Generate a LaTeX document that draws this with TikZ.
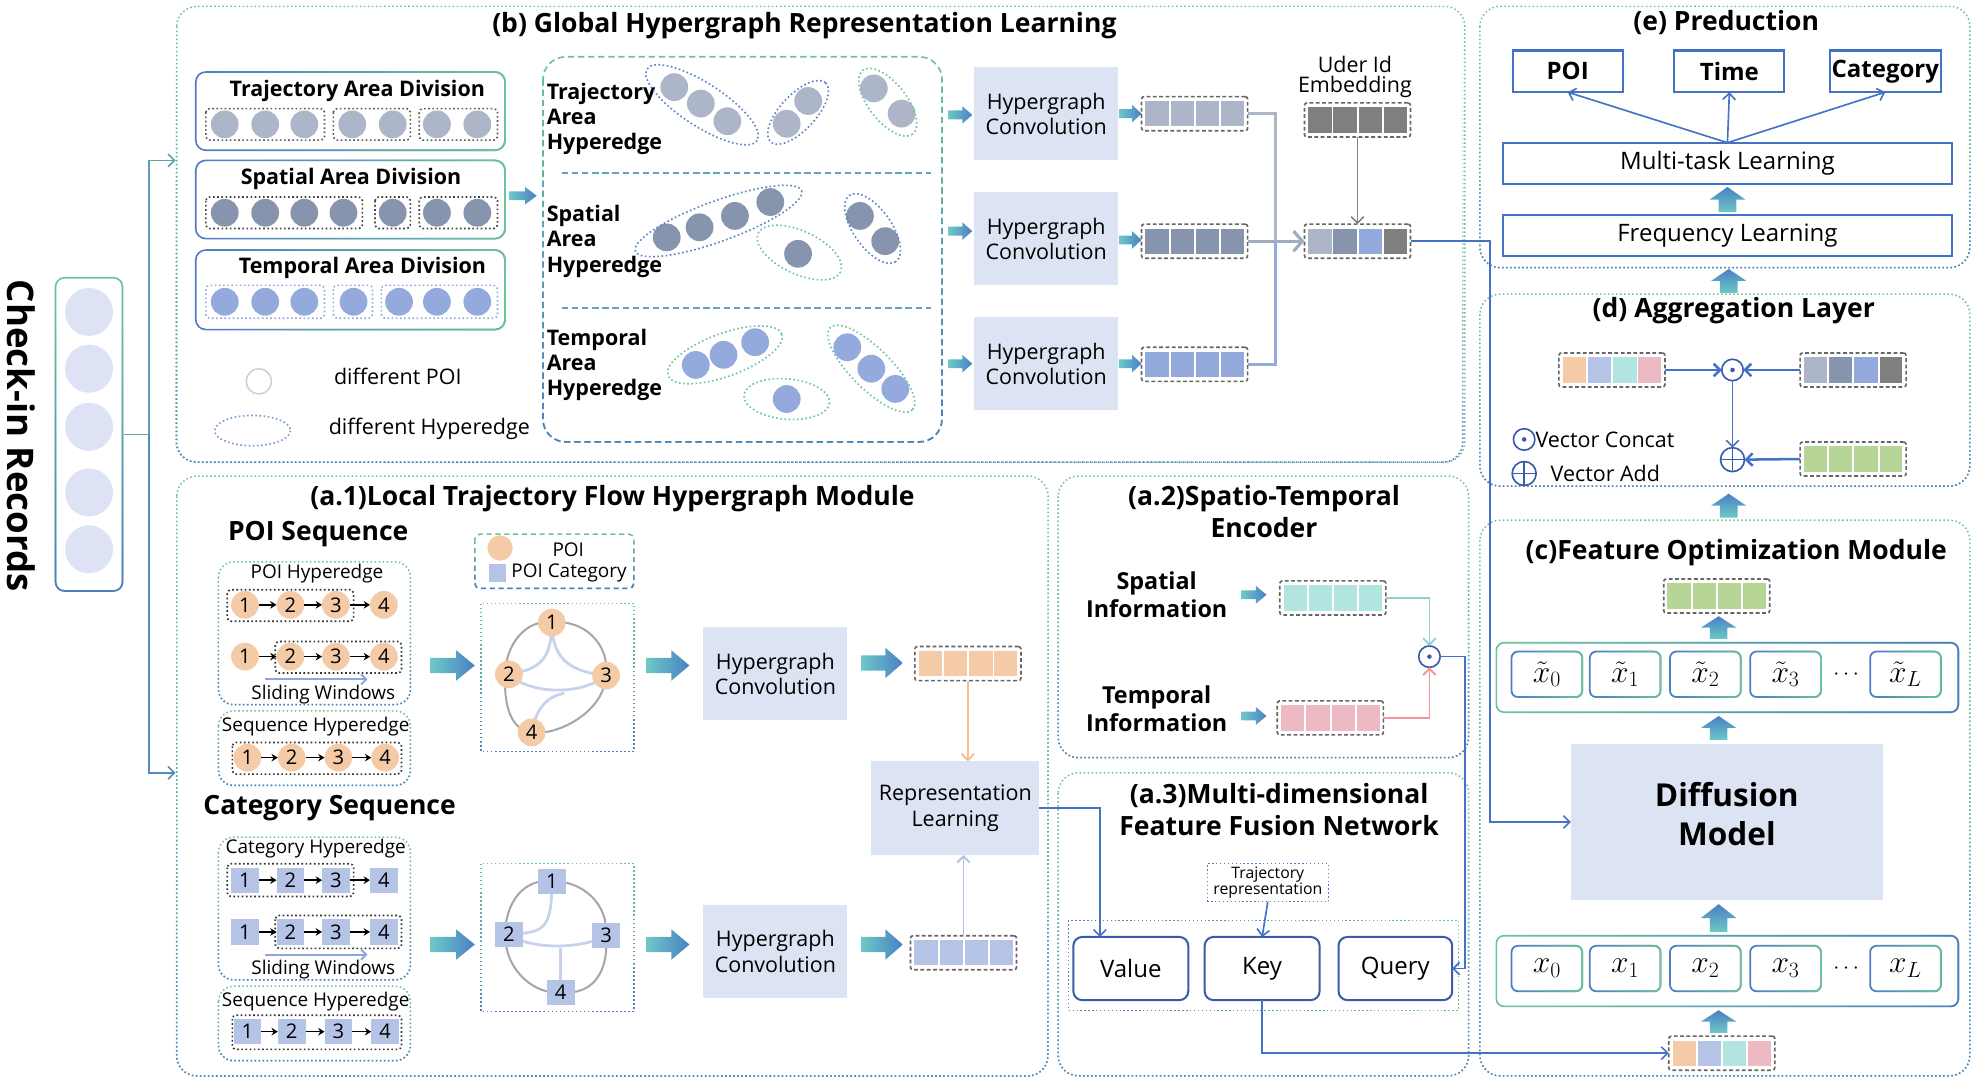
\documentclass[tikz,border=0pt]{standalone}
\usepackage{fontspec}
\setmainfont{Open Sans}
\usetikzlibrary{arrows.meta,calc,fadings,backgrounds}
\definecolor{lav}{HTML}{DCE3F3}
\definecolor{poiC}{HTML}{F5CBA7}
\definecolor{catC}{HTML}{B4C3E6}
\definecolor{mintC}{HTML}{B3E5E0}
\definecolor{pinkC}{HTML}{EDBAC3}
\definecolor{grnC}{HTML}{B7D597}
\definecolor{trajC}{HTML}{ADB5C8}
\definecolor{spatC}{HTML}{8794AD}
\definecolor{tempC}{HTML}{95AADC}
\definecolor{darkC}{HTML}{7F7F7F}
\definecolor{lineB}{HTML}{4472C4}
\definecolor{gA}{HTML}{6CC49B}
\definecolor{bB}{HTML}{4F7CC4}
\definecolor{hgA}{HTML}{6CC4A8}
\definecolor{hgB}{HTML}{5B84CA}
\definecolor{fatA}{HTML}{6DC8C8}
\definecolor{fatB}{HTML}{4A80C4}
\definecolor{chkC}{HTML}{DDE3F4}
\definecolor{xbC}{HTML}{4E8DBF}
\definecolor{opC}{HTML}{3A5BA8}
\tikzfading[name=fadeR, left color=transparent!100, right color=transparent!0]
\tikzfading[name=fadeD, top color=transparent!100, bottom color=transparent!0]
\newcommand\fatH[5]{%
  \shade[left color=fatA,right color=fatB] (#1,{#3-#4}) -- ({#2-0.42*(#2-#1)},{#3-#4}) -- ({#2-0.42*(#2-#1)},{#3-#5}) -- (#2,#3) -- ({#2-0.42*(#2-#1)},{#3+#5}) -- ({#2-0.42*(#2-#1)},{#3+#4}) -- (#1,{#3+#4}) -- cycle;}
\newcommand\fatV[5]{%
  \shade[top color=fatB,bottom color=fatA] ({#1-#4},#2) -- ({#1-#4},{#3+0.5*(#2-#3)}) -- ({#1-#5},{#3+0.5*(#2-#3)}) -- (#1,#3) -- ({#1+#5},{#3+0.5*(#2-#3)}) -- ({#1+#4},{#3+0.5*(#2-#3)}) -- ({#1+#4},#2) -- cycle;}
\newcommand\vecb[7]{%
  \node[vecout] (#1) at (#2,#3) {};
  \fill[#4] ({#2-39},{#3-10}) rectangle ({#2-20.5},{#3+10});
  \fill[#5] ({#2-19},{#3-10}) rectangle ({#2-0.5},{#3+10});
  \fill[#6] ({#2+1},{#3-10}) rectangle ({#2+19.5},{#3+10});
  \fill[#7] ({#2+21},{#3-10}) rectangle ({#2+39},{#3+10});}
\newcommand\bigb[2]{\draw[bigbox,draw=gA] #1 rectangle #2;\draw[bigbox,draw=bB,path fading=fadeD] #1 rectangle #2;}
\newcommand\gbord[4]{\draw[#2,line width=1.3pt,rounded corners=#4,path fading=#3] (#1.north west) rectangle (#1.south east);}
\begin{document}
\begin{tikzpicture}[x=1pt,y=-1pt,
  every node/.style={outer sep=0pt,inner sep=0pt},
  bigbox/.style={dotted,line width=1.2pt,rounded corners=16},
  ttl/.style={font=\bfseries\fontsize{21}{25}\selectfont,align=center},
  hcbox/.style={fill=lav,minimum width=114,minimum height=74,align=center,font=\fontsize{17}{20}\selectfont},
  vecout/.style={draw=black!60,dash pattern=on 3pt off 2pt,line width=1.3pt,rounded corners=2,minimum width=84,minimum height=27},
  bline/.style={draw=lineB,line width=1.3pt},
  barb/.style={-{Straight Barb[length=5pt,width=10pt]}},
  opc/.style={circle,draw=opC,line width=1.3pt,minimum size=17,fill=white},
  pc/.style={circle,fill=poiC,minimum size=22,font=\fontsize{16}{16}\selectfont},
  cc/.style={fill=catC,minimum width=22,minimum height=20,font=\fontsize{16}{16}\selectfont},
  seqar/.style={-{Stealth[length=5pt,width=6pt]},line width=1.1pt},
  dotr/.style={dotted,line width=1.3pt,rounded corners=3},
  lbl/.style={font=\fontsize{17}{19}\selectfont},
  slbl/.style={font=\fontsize{15}{15}\selectfont},
  blbl/.style={font=\bfseries\fontsize{17}{20}\selectfont,align=left},
  he/.style={dotted,line width=1.3pt},
  outbox/.style={draw=lineB,line width=1.6pt,fill=white},
  qbox/.style={draw=opC,line width=1.6pt,fill=white,rounded corners=7,minimum height=50,font=\fontsize{19}{19}\selectfont},
  xbox/.style={draw=bB,line width=1.4pt,rounded corners=5,minimum width=56,minimum height=36,font=\fontsize{24}{24}\selectfont},
  hline/.style={line width=2.2pt,draw=catC!75},
  gline/.style={line width=1.6pt,draw=black!35},
]
\useasboundingbox (0,0) rectangle (1568,858);

% ---------------- Check-in records ----------------
\node[font=\bfseries\fontsize{29}{29}\selectfont,rotate=-90] (chkt) at (17,345) {Check-in Records};
\node[draw=gA,line width=1.3pt,rounded corners=7,minimum width=53,minimum height=248] (chk) at (70.5,344) {};
\gbord{chk}{bB}{fadeD}{7}
\foreach \i/\yy in {1/247,2/292,3/338,4/390,5/435} \node[circle,fill=chkC,minimum size=38] (ck\i) at (70.5,\yy) {};
\coordinate (sp) at (118,344);
\coordinate (bin) at (139,127);
\coordinate (ain) at (139,612);
\draw[draw=gA!70!bB,line width=1.3pt] (chk.east) -- (sp);
\draw[draw=gA!50!bB,line width=1.3pt,barb] (sp) |- (bin);
\draw[draw=bB!80!gA,line width=1.3pt,barb] (sp) |- (ain);

% ---------------- big containers ----------------
\bigb{(140,5)}{(1160,366)}
\bigb{(1172,5)}{(1560,212)}
\bigb{(1172,233)}{(1560,385)}
\bigb{(1172,412)}{(1560,852)}
\bigb{(140,377)}{(830,852)}
\bigb{(838,377)}{(1163,600)}
\bigb{(838,612)}{(1163,852)}

% ---------------- (b) ----------------
\node[ttl] (tb) at (637,20) {(b) Global Hypergraph Representation Learning};
\node[draw=bB,line width=1.3pt,rounded corners=8,minimum width=245,minimum height=62] (dvT) at (277.5,88) {};
\gbord{dvT}{gA}{fadeR}{8}
\node[draw=bB,line width=1.3pt,rounded corners=8,minimum width=245,minimum height=62] (dvS) at (277.5,158) {};
\gbord{dvS}{gA}{fadeR}{8}
\node[draw=bB,line width=1.3pt,rounded corners=8,minimum width=245,minimum height=63] (dvP) at (277.5,229.5) {};
\gbord{dvP}{gA}{fadeR}{8}
\node[blbl] (dvTt) at (283,72) {Trajectory Area Division};
\node[blbl] (dvSt) at (278,142) {Spatial Area Division};
\node[blbl] (dvPt) at (287,212) {Temporal Area Division};
\draw[dotr,black!65] (163,86) rectangle (257,111);
\draw[dotr,black!65] (264,86) rectangle (325,111);
\draw[dotr,black!65] (332,86) rectangle (394,111);
\foreach \xx in {178,210,241,279,311,346,378} \fill[trajC] (\xx,98.5) circle (11);
\draw[dotr,black!75] (163,156) rectangle (287,181);
\draw[dotr,black!75] (297,156) rectangle (325,181);
\draw[dotr,black!75] (332,156) rectangle (394,181);
\foreach \xx in {178,210,241,272,311,346,378} \fill[spatC] (\xx,168.5) circle (11);
\draw[dotr,tempC] (163,226) rectangle (257,252);
\draw[dotr,tempC] (264,226) rectangle (295,252);
\draw[dotr,tempC] (302,226) rectangle (394,252);
\foreach \xx in {178,210,241,280,316,346,378} \fill[tempC] (\xx,239) circle (11);
\node[circle,draw=black!18,line width=1.3pt,minimum size=20] (lgp) at (205,302) {};
\node[lbl] (lgpt) at (315,298) {different POI};
\draw[he,draw=hgB!80] (200,341) ellipse [x radius=30,y radius=12];
\node[lbl] (lght) at (340,340) {different Hyperedge};
\fatH{403}{425}{155}{3.5}{7}
\draw[dash pattern=on 5pt off 3pt,draw=gA,line width=1.3pt,rounded corners=18] (430,45) rectangle (746,350);
\draw[dash pattern=on 5pt off 3pt,draw=bB,line width=1.3pt,rounded corners=18,path fading=fadeD] (430,45) rectangle (746,350);
\draw[dash pattern=on 5pt off 3pt,line width=1.8pt,draw=hgA!50!hgB] (445,137) -- (737,137);
\draw[dash pattern=on 5pt off 3pt,line width=1.8pt,draw=hgA!50!hgB] (445,244) -- (737,244);
\node[blbl,anchor=west] (heT) at (433,94) {Trajectory\\Area\\Hyperedge};
\node[blbl,anchor=west] (heS) at (433,191) {Spatial\\Area\\Hyperedge};
\node[blbl,anchor=west] (heP) at (433,289) {Temporal\\Area\\Hyperedge};
% trajectory hyperedges
\foreach \p in {(534,69),(555,82),(576,96),(623,98),(640,80),(692,70),(714,90)} \fill[trajC] \p circle (11);
\draw[he,draw=hgB,rotate around={-33:(556,83)}] (556,83) ellipse [x radius=52,y radius=17];
\draw[he,draw=hgB,rotate around={47:(632,89)}] (632,89) ellipse [x radius=32,y radius=14];
\draw[he,draw=hgA,rotate around={-52:(703,81)}] (703,81) ellipse [x radius=32,y radius=15];
% spatial hyperedges
\foreach \p in {(528,188),(554,180),(582,171),(610,160),(632,201),(681,171),(701,191)} \fill[spatC] \p circle (11);
\draw[he,draw=hgB,rotate around={20:(569,175)}] (569,175) ellipse [x radius=70,y radius=16];
\draw[he,draw=hgA,rotate around={-25:(633,200)}] (633,200) ellipse [x radius=36,y radius=17];
\draw[he,draw=hgB,rotate around={-55:(691,181)}] (691,181) ellipse [x radius=32,y radius=15];
% temporal hyperedges
\foreach \p in {(551,289),(573,281),(598,271),(623,316),(671,275),(690,292),(709,308)} \fill[tempC] \p circle (11);
\draw[he,draw=hgA,rotate around={20:(574,281)}] (574,281) ellipse [x radius=48,y radius=17];
\draw[he,draw=hgA,rotate around={-5:(623,316)}] (623,316) ellipse [x radius=34,y radius=16];
\draw[he,draw=hgA,rotate around={-45:(690,292)}] (690,292) ellipse [x radius=46,y radius=16];
% convolutions
\node[hcbox] (hc1) at (828.5,90) {Hypergraph\\Convolution};
\node[hcbox] (hc2) at (828.5,189) {Hypergraph\\Convolution};
\node[hcbox] (hc3) at (828.5,288) {Hypergraph\\Convolution};
\fatH{751}{770}{91}{3.5}{7}
\fatH{751}{770}{183}{3.5}{7}
\fatH{751}{770}{288}{3.5}{7}
\fatH{886}{904}{90}{3.5}{7}
\fatH{886}{904}{190}{3.5}{7}
\fatH{886}{904}{288}{3.5}{7}
\vecb{v1}{946}{90}{trajC}{trajC}{trajC}{trajC}
\vecb{v2}{946}{191}{spatC}{spatC}{spatC}{spatC}
\vecb{v3}{946}{288.5}{tempC}{tempC}{tempC}{tempC}
\node[font=\fontsize{17}{16}\selectfont,align=center] (uidt) at (1073,61) {Uder Id\\Embedding};
\vecb{uv}{1075}{95}{darkC}{darkC}{darkC}{darkC}
\vecb{cv}{1075}{191}{trajC}{spatC}{tempC}{darkC}
\draw[draw=darkC,line width=1.3pt,barb] (uv.south) -- (cv.north);
\coordinate (jn) at (1010,191);
\draw[draw=trajC,line width=2pt] (v1.east) -| (jn);
\draw[draw=tempC,line width=2pt] (v3.east) -| (jn);
\draw[draw=trajC!70!spatC,line width=2.5pt,-{Straight Barb[length=7pt,width=16pt]}] (v2.east) -- (cv.west);

% ---------------- (e) ----------------
\node[ttl] (te) at (1367,18) {(e) Preduction};
\node[outbox,minimum width=87,minimum height=33,font=\bfseries\fontsize{19}{19}\selectfont] (opoi) at (1241.5,56.5) {POI};
\node[outbox,minimum width=87,minimum height=33,font=\bfseries\fontsize{19}{19}\selectfont] (otime) at (1369.5,56.5) {Time};
\node[outbox,minimum width=88,minimum height=33,font=\bfseries\fontsize{19}{19}\selectfont] (ocat) at (1493,56.5) {Category};
\node[outbox,minimum width=356,minimum height=33,font=\fontsize{19}{19}\selectfont] (mtl) at (1368,129.5) {Multi-task Learning};
\node[outbox,minimum width=356,minimum height=33,font=\fontsize{19}{19}\selectfont] (frq) at (1368,186.5) {Frequency Learning};
\draw[bline,barb] (mtl.north) -- (opoi.south);
\draw[bline,barb] (mtl.north) -- (otime.south);
\draw[bline,barb] (mtl.north) -- (ocat.south);
\fatV{1368}{168}{148}{7}{14}
\fatV{1369}{232}{213}{7}{14}

% ---------------- (d) ----------------
\node[ttl] (td) at (1373,246) {(d) Aggregation Layer};
\vecb{lv}{1276.5}{293}{poiC}{catC}{mintC}{pinkC}
\vecb{rv}{1467.5}{293}{trajC}{spatC}{tempC}{darkC}
\vecb{gv}{1467.5}{363.5}{grnC}{grnC}{grnC}{grnC}
\node[opc] (cop) at (1372,293) {};
\fill[opC] (cop.center) circle (1.8);
\node[opc,minimum size=19] (aop) at (1372,364) {};
\draw[draw=opC,line width=1.3pt] (aop.north) -- (aop.south) (aop.west) -- (aop.east);
\draw[bline,line width=2pt,barb] (lv.east) -- (cop.west);
\draw[bline,line width=2pt,barb] (rv.west) -- (cop.east);
\draw[bline,barb] (cop.south) -- (aop.north);
\draw[bline,line width=2pt,barb] (gv.west) -- (aop.east);
\node[opc] (lgc) at (1207,348) {};
\fill[opC] (lgc.center) circle (1.8);
\node[font=\fontsize{17}{17}\selectfont,anchor=west] (lgct) at (1216,348) {Vector Concat};
\node[opc,minimum size=19] (lga) at (1207,375) {};
\draw[draw=opC,line width=1.3pt] (lga.north) -- (lga.south) (lga.west) -- (lga.east);
\node[font=\fontsize{17}{17}\selectfont,anchor=west] (lgat) at (1228,375) {Vector Add};
\fatV{1369}{410}{391}{7}{14}

% ---------------- (c) ----------------
\node[ttl] (tc) at (1375,438) {(c)Feature Optimization Module};
\vecb{fv}{1359.5}{472}{grnC}{grnC}{grnC}{grnC}
\fatV{1361}{506}{488}{7}{14}
\node[draw=gA,line width=1.3pt,rounded corners=6,minimum width=366,minimum height=55] (xtc) at (1368,536.5) {};
\gbord{xtc}{bB}{fadeR}{6}
\foreach \i/\xx in {0/1225,1/1287,2/1350.5,3/1414} {\node[xbox] (xt\i) at (\xx,534) {$\tilde{x}_\i$}; \gbord{xt\i}{gA}{fadeR}{5}}
\node[xbox] (xtL) at (1509,534) {$\tilde{x}_L$};
\gbord{xtL}{gA}{fadeR}{5}
\node[font=\fontsize{16}{16}\selectfont] (xtd) at (1462,534) {$\cdots$};
\fatV{1361}{586}{567}{7}{14}
\node[fill=lav,minimum width=247,minimum height=124] (diff) at (1367.5,651) {};
\node[align=center,font=\bfseries\fontsize{25}{31}\selectfont] (difft) at (1367.5,645) {Diffusion\\Model};
\fatV{1361}{738}{716}{7}{14}
\node[draw=gA,line width=1.3pt,rounded corners=6,minimum width=366,minimum height=56] (xc) at (1368,769) {};
\gbord{xc}{bB}{fadeR}{6}
\foreach \i/\xx in {0/1225,1/1287,2/1350.5,3/1414} {\node[xbox] (x\i) at (\xx,767) {$x_\i$}; \gbord{x\i}{gA}{fadeR}{5}}
\node[xbox] (xL) at (1509,767) {$x_L$};
\gbord{xL}{gA}{fadeR}{5}
\node[font=\fontsize{16}{16}\selectfont] (xd) at (1462,767) {$\cdots$};
\fatV{1361}{818}{800}{7}{14}
\vecb{bv}{1363.5}{834}{poiC}{catC}{mintC}{pinkC}
\draw[bline,barb] (cv.east) -- (1180,191) |- (diff.west);

% ---------------- (a.1) ----------------
\node[ttl] (ta1) at (485,395) {(a.1)Local Trajectory Flow Hypergraph Module};
\node[font=\bfseries\fontsize{21}{21}\selectfont] (pseq) at (252,423) {POI Sequence};
\draw[dotted,line width=1.2pt,rounded corners=12,draw=gA] (173,445) rectangle (325,558);
\draw[dotted,line width=1.2pt,rounded corners=12,draw=bB,path fading=fadeD] (173,445) rectangle (325,558);
\node[slbl] (pht) at (251,454) {POI Hyperedge};
\draw[dotr,black!80] (180,467) rectangle (280,492);
\draw[dotr,black!80] (218,508) rectangle (318,533);
\foreach \i/\xx in {1/194,2/230,3/266,4/304} \node[pc] (pa\i) at (\xx,479) {\i};
\foreach \i/\xx in {1/194,2/230,3/266,4/304} \node[pc] (pb\i) at (\xx,520) {\i};
\foreach \i/\j in {1/2,2/3,3/4} {\draw[seqar] (pa\i) -- (pa\j); \draw[seqar] (pb\i) -- (pb\j);}
\coordinate (swa1) at (210,538);
\coordinate (swa2) at (291,538);
\draw[draw=catC!60!bB,line width=1.5pt,-{Straight Barb[length=4pt,width=8pt]}] (swa1) -- (swa2);
\node[slbl] (sw1) at (256,550) {Sliding Windows};
\draw[dotted,line width=1.2pt,rounded corners=12,draw=gA] (173,563) rectangle (325,622);
\draw[dotted,line width=1.2pt,rounded corners=12,draw=bB,path fading=fadeD] (173,563) rectangle (325,622);
\node[slbl] (psh) at (250,575) {Sequence Hyperedge};
\draw[dotr,black!80] (184,588) rectangle (318,613);
\foreach \i/\xx in {1/196,2/231,3/268,4/305} \node[pc] (pc\i) at (\xx,600) {\i};
\foreach \i/\j in {1/2,2/3,3/4} \draw[seqar] (pc\i) -- (pc\j);
% legend
\draw[dash pattern=on 4pt off 3pt,line width=1.2pt,rounded corners=4,draw=gA] (376,423) rectangle (502,466);
\draw[dash pattern=on 4pt off 3pt,line width=1.2pt,rounded corners=4,draw=bB,path fading=fadeD] (376,423) rectangle (502,466);
\node[circle,fill=poiC,minimum size=20] (lpc) at (396,434) {};
\node[slbl] (lpct) at (450,435) {POI};
\node[fill=catC,minimum size=14] (lcs) at (394,454) {};
\node[slbl,anchor=west] (lcst) at (405,454) {POI Category};
% graph 1
\draw[dotted,line width=1.2pt,draw=gA] (381,478) rectangle (502,595);
\draw[dotted,line width=1.2pt,draw=bB,path fading=fadeD] (381,478) rectangle (502,595);
\node[pc] (ga1) at (437,493) {1};
\node[pc] (ga2) at (403,534) {2};
\node[pc] (ga3) at (480,535) {3};
\node[pc] (ga4) at (421,580) {4};
\begin{scope}[on background layer]
\draw[gline] (ga1.center) .. controls (417,490) and (400,510) .. (400,535) .. controls (399,560) and (405,578) .. (ga4.center) .. controls (440,583) and (478,565) .. (ga3.center) .. controls (483,510) and (462,490) .. (ga1.center);
\draw[hline] (ga1.center) .. controls (437,525) and (425,530) .. (ga2.center);
\draw[hline] (ga1.center) .. controls (437,525) and (455,532) .. (ga3.center);
\draw[hline] (ga2.center) .. controls (420,550) and (460,551) .. (ga3.center);
\draw[hline] (447,549) .. controls (430,552) and (424,565) .. (ga4.center);
\end{scope}
\fatH{341}{376}{527}{6}{12}
\fatH{512}{546}{527}{6}{12}
\fatH{682}{715}{525}{6}{12}
\node[hcbox] (hca) at (614,533.5) {Hypergraph\\Convolution};
\vecb{pv}{766.5}{525.5}{poiC}{poiC}{poiC}{poiC}
\node[fill=lav,minimum width=133,minimum height=74,align=center,font=\fontsize{17}{20}\selectfont] (rl) at (756.5,640) {Representation\\Learning};
\draw[draw=poiC!85!orange,line width=1.5pt,barb] (pv.south) -- (pv.south |- rl.north);
% category
\node[font=\bfseries\fontsize{21}{21}\selectfont] (cseq) at (261,640) {Category Sequence};
\draw[dotted,line width=1.2pt,rounded corners=12,draw=gA] (173,663) rectangle (325,776);
\draw[dotted,line width=1.2pt,rounded corners=12,draw=bB,path fading=fadeD] (173,663) rectangle (325,776);
\node[slbl] (cht) at (250,672) {Category Hyperedge};
\draw[dotr,black!80] (180,684) rectangle (280,710);
\draw[dotr,black!80] (218,725) rectangle (318,751);
\foreach \i/\xx in {1/194,2/230,3/266,4/304} \node[cc] (ca\i) at (\xx,697) {\i};
\foreach \i/\xx in {1/194,2/230,3/266,4/304} \node[cc] (cb\i) at (\xx,738) {\i};
\foreach \i/\j in {1/2,2/3,3/4} {\draw[seqar] (ca\i) -- (ca\j); \draw[seqar] (cb\i) -- (cb\j);}
\coordinate (swb1) at (210,756);
\coordinate (swb2) at (291,756);
\draw[draw=catC!60!bB,line width=1.5pt,-{Straight Barb[length=4pt,width=8pt]}] (swb1) -- (swb2);
\node[slbl] (sw2) at (256,768) {Sliding Windows};
\draw[dotted,line width=1.2pt,rounded corners=12,draw=gA] (173,781) rectangle (325,840);
\draw[dotted,line width=1.2pt,rounded corners=12,draw=bB,path fading=fadeD] (173,781) rectangle (325,840);
\node[slbl] (csh) at (250,793) {Sequence Hyperedge};
\draw[dotr,black!80] (184,804) rectangle (318,831);
\foreach \i/\xx in {1/196,2/231,3/268,4/305} \node[cc] (cs\i) at (\xx,817) {\i};
\foreach \i/\j in {1/2,2/3,3/4} \draw[seqar] (cs\i) -- (cs\j);
% graph 2
\draw[dotted,line width=1.2pt,draw=gA] (381,684) rectangle (502,801);
\draw[dotted,line width=1.2pt,draw=bB,path fading=fadeD] (381,684) rectangle (502,801);
\node[cc] (gb1) at (437,698) {1};
\node[cc] (gb2) at (403,740) {2};
\node[cc] (gb3) at (480,741) {3};
\node[cc] (gb4) at (444,786) {4};
\begin{scope}[on background layer]
\draw[gline] (gb1.center) .. controls (415,695) and (400,715) .. (400,740) .. controls (400,770) and (425,788) .. (gb4.center) .. controls (470,788) and (482,770) .. (gb3.center) .. controls (482,715) and (460,697) .. (gb1.center);
\draw[hline] (gb1.center) .. controls (437,738) and (430,738) .. (gb2.center);
\draw[hline] (gb2.center) .. controls (420,752) and (460,752) .. (gb3.center);
\draw[hline] (444,751) -- (gb4.center);
\end{scope}
\fatH{341}{376}{748}{6}{12}
\fatH{512}{546}{748}{6}{12}
\fatH{682}{715}{748}{6}{12}
\node[hcbox] (hcb) at (614,753.5) {Hypergraph\\Convolution};
\vecb{cv2}{763}{754.5}{catC}{catC}{catC}{catC}
\draw[draw=catC,line width=1.5pt,barb] (cv2.north) -- (cv2.north |- rl.south);

% ---------------- (a.2) ----------------
\node[ttl] (ta2) at (1001,405) {(a.2)Spatio-Temporal\\Encoder};
\node[font=\bfseries\fontsize{18.5}{22}\selectfont,align=center] (spi) at (916,471) {Spatial\\Information};
\node[font=\bfseries\fontsize{18.5}{22}\selectfont,align=center] (tpi) at (916,561) {Temporal\\Information};
\fatH{983}{1003}{471}{3.5}{7}
\fatH{983}{1003}{567}{3.5}{7}
\vecb{sv}{1055.5}{473.5}{mintC}{mintC}{mintC}{mintC}
\vecb{tv}{1053.5}{568.5}{pinkC}{pinkC}{pinkC}{pinkC}
\node[opc] (stop) at (1132,520) {};
\fill[opC] (stop.center) circle (1.8);
\draw[draw=mintC!80!teal,line width=1.5pt,barb] (sv.east) -| (stop.north);
\draw[draw=pinkC!80!red,line width=1.5pt,barb] (tv.east) -| (stop.south);

% ---------------- (a.3) ----------------
\node[ttl] (ta3) at (1013,641) {(a.3)Multi-dimensional\\Feature Fusion Network};
\node[draw=bB,dotted,line width=1.1pt,minimum width=96,minimum height=30,align=center,font=\fontsize{12.5}{11}\selectfont] (trj) at (1004,699) {Trajectory\\representation};
\draw[dotted,line width=1.1pt,draw=bB] (846,729) rectangle (1155,800);
\draw[dotted,line width=1.1pt,draw=gA,path fading=fadeR] (846,729) rectangle (1155,800);
\node[qbox,minimum width=91] (val) at (895.5,767) {Value};
\node[qbox,minimum width=91] (key) at (999.5,767) {Key};
\node[qbox,minimum width=90] (qry) at (1105,767) {Query};
\draw[bline,barb] (trj.south) -- (key.north);
\coordinate (vin) at (871,742);
\draw[bline,barb] (rl.east) -| (vin);
\draw[bline,barb] (key.south) |- (bv.west);
\draw[bline,barb] (stop.east) -- (1160,520) |- (qry.east);
\end{tikzpicture}
\end{document}
